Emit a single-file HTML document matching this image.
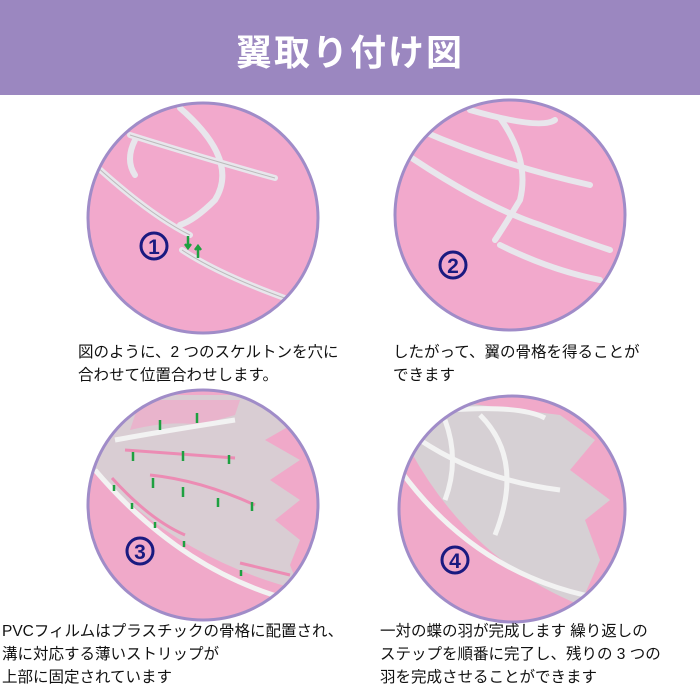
<!DOCTYPE html>
<html><head><meta charset="utf-8"><style>
body{margin:0;width:700px;height:700px;background:#fff;position:relative;overflow:hidden;font-family:"Liberation Sans","Noto Sans CJK JP",sans-serif;}
.hd{position:absolute;left:0;top:0;width:700px;height:95px;background:#9b87c0;}
.hd div{position:absolute;left:0;width:700px;top:24px;text-align:center;color:#fff;font-size:36px;font-weight:bold;letter-spacing:2px;}
.t{position:absolute;font-size:15.5px;line-height:23px;color:#111;white-space:nowrap;}
svg{position:absolute;left:0;top:0}
</style></head><body>
<div class="hd"><div>翼取り付け図</div></div>
<svg width="700" height="700" viewBox="0 0 700 700">
<defs>
<clipPath id="c1"><circle cx="203" cy="218" r="114"/></clipPath>
<clipPath id="c2"><circle cx="510" cy="215" r="114"/></clipPath>
<clipPath id="c3"><circle cx="203" cy="505" r="114"/></clipPath>
<clipPath id="c4"><circle cx="512" cy="509" r="112"/></clipPath>
</defs>
<circle cx="203" cy="218" r="115" fill="#f2a9cc"/>
<g clip-path="url(#c1)" fill="none" stroke="#e8e6ec" stroke-width="6" stroke-linecap="round">
<path d="M95 165 Q150 215 190 235"/>
<path d="M130 135 Q210 160 275 178"/>
<path d="M180 108 Q240 160 215 200 Q195 220 180 225"/>
<path d="M135 140 Q125 160 135 175"/>
<path d="M182 250 Q220 275 290 300"/>
</g>
<g clip-path="url(#c1)" fill="none" stroke="#bbb" stroke-width="1">
<path d="M95 165 Q150 215 190 235"/><path d="M130 135 Q210 160 275 178"/><path d="M182 250 Q220 275 290 300"/>
</g>
<path d="M188 236 v12 M185 244 l3 4 3-4 M198 258 v-12 M195 250 l3-4 3 4" stroke="#1ea040" stroke-width="2.5" fill="none"/>
<circle cx="154" cy="246" r="13" fill="none" stroke="#1a1a80" stroke-width="3"/>
<text x="154" y="254" font-size="21" font-weight="bold" fill="#1a1a80" text-anchor="middle" font-family="Liberation Sans">1</text>
<circle cx="203" cy="218" r="115" fill="none" stroke="#a08cc8" stroke-width="3"/>
<circle cx="510" cy="215" r="115" fill="#f2a9cc"/>
<g clip-path="url(#c2)" fill="none" stroke="#e8e6ec" stroke-width="6" stroke-linecap="round">
<path d="M400 150 Q480 205 540 225 Q580 240 610 250"/>
<path d="M420 130 Q500 165 590 185"/>
<path d="M470 110 Q540 130 555 120"/>
<path d="M500 118 Q530 160 520 200 Q505 225 495 240"/>
<path d="M500 245 Q550 270 600 280"/>
</g>
<circle cx="453" cy="265" r="13" fill="none" stroke="#1a1a80" stroke-width="3"/>
<text x="453" y="273" font-size="21" font-weight="bold" fill="#1a1a80" text-anchor="middle" font-family="Liberation Sans">2</text>
<circle cx="510" cy="215" r="115" fill="none" stroke="#a08cc8" stroke-width="3"/>
<circle cx="203" cy="505" r="115" fill="#f0a9c9"/>
<g clip-path="url(#c3)">
<path d="M95 470 Q180 560 300 590 L290 565 L300 540 L275 520 L300 500 L270 480 L300 460 L265 440 L300 420 L250 395 L130 395 L95 430Z" fill="#d6d0d4" opacity="0.9"/>
<path d="M130 430 Q170 420 200 425 L235 415 L240 400 L140 400Z" fill="#f0a9c9" opacity="0.7"/>
<g fill="none" stroke="#f2f2f2" stroke-width="5"><path d="M115 440 Q170 430 235 420"/><path d="M95 470 Q180 570 290 600"/></g>
<g fill="none" stroke="#ec8cb4" stroke-width="3"><path d="M125 450 L235 458"/><path d="M150 475 Q200 480 255 505"/><path d="M112 478 Q150 520 185 535"/><path d="M240 563 L290 575"/></g>
<g stroke="#1ea040" stroke-width="2.5" fill="#1ea040">
<path d="M160 420 v10 M197 413 v10 M133 452 v9 M183 451 v10 M229 455 v9 M153 478 v10 M183 487 v10 M218 498 v9 M252 502 v9 M114 485 v6 M132 503 v6 M155 522 v6 M184 541 v6 M241 570 v6"/>
</g>
</g>
<circle cx="140" cy="551" r="13" fill="none" stroke="#1a1a80" stroke-width="3"/>
<text x="140" y="559" font-size="21" font-weight="bold" fill="#1a1a80" text-anchor="middle" font-family="Liberation Sans">3</text>
<circle cx="203" cy="505" r="115" fill="none" stroke="#a08cc8" stroke-width="3"/>
<circle cx="512" cy="509" r="113" fill="#f0a9c9"/>
<g clip-path="url(#c4)">
<path d="M410 450 Q470 560 580 605 L600 560 L585 520 L610 500 L570 470 L595 440 L560 415 L440 400Z" fill="#d6d0d4"/>
<g fill="none" stroke="#f2f2f2" stroke-width="5"><path d="M400 470 Q480 580 610 600"/><path d="M420 440 Q480 480 560 490"/><path d="M450 410 Q520 405 545 418"/><path d="M445 420 Q460 460 445 500"/><path d="M480 415 Q525 460 495 535"/></g>
</g>
<circle cx="455" cy="560" r="13" fill="none" stroke="#1a1a80" stroke-width="3"/>
<text x="455" y="568" font-size="21" font-weight="bold" fill="#1a1a80" text-anchor="middle" font-family="Liberation Sans">4</text>
<circle cx="512" cy="509" r="113" fill="none" stroke="#a08cc8" stroke-width="3"/>
</svg>
<div class="t" style="left:78px;top:341px">図のように、2 つのスケルトンを穴に<br>合わせて位置合わせします。</div>
<div class="t" style="left:393px;top:341px">したがって、翼の骨格を得ることが<br>できます</div>
<div class="t" style="left:2px;top:620px">PVCフィルムはプラスチックの骨格に配置され、<br>溝に対応する薄いストリップが<br>上部に固定されています</div>
<div class="t" style="left:380px;top:620px">一対の蝶の羽が完成します 繰り返しの<br>ステップを順番に完了し、残りの 3 つの<br>羽を完成させることができます</div>
</body></html>
